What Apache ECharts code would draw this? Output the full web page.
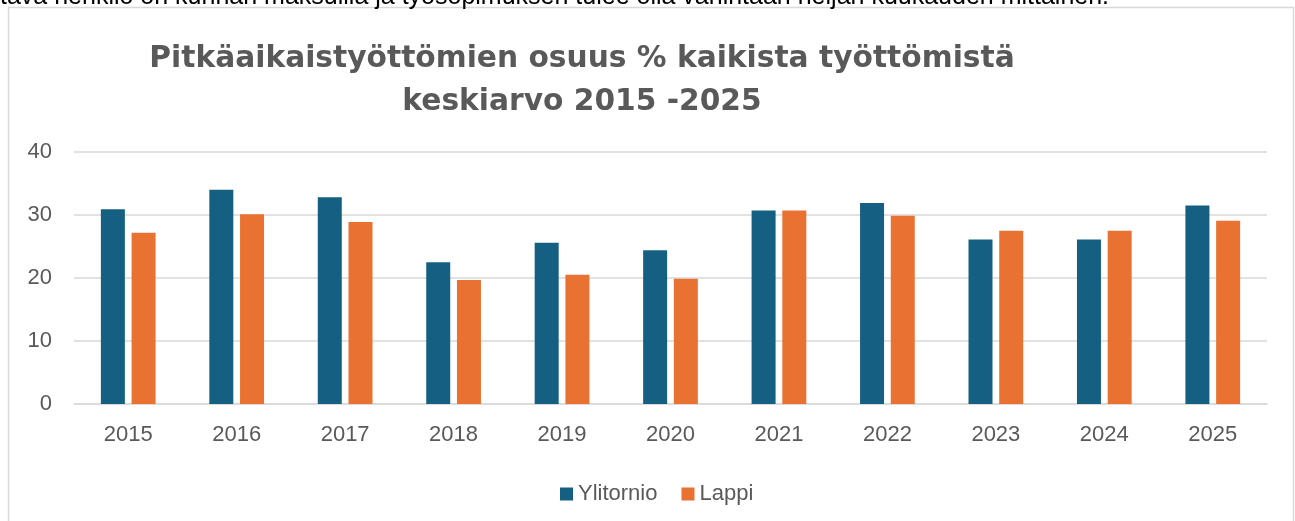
<!DOCTYPE html>
<html>
<head>
<meta charset="utf-8">
<script src="https://cdn.jsdelivr.net/npm/echarts@6/dist/echarts.min.js"></script>
<style>
  html, body { margin: 0; padding: 0; background: #fff; }
  #chart { width: 1295px; height: 521px; }
</style>
</head>
<body>
<div id="chart"></div>
<script>
const years = ["2015", "2016", "2017", "2018", "2019", "2020", "2021", "2022", "2023", "2024", "2025"];
const ylitornio = [30.9, 34.0, 32.8, 22.5, 25.6, 24.4, 30.7, 31.9, 26.1, 26.1, 31.5];
const lappi = [27.2, 30.1, 28.9, 19.7, 20.5, 19.9, 30.7, 29.9, 27.5, 27.5, 29.1];
const yTicks = [0, 10, 20, 30, 40];

const chart = echarts.init(document.getElementById("chart"));
const grey = "#595959";
const font = "'Liberation Sans', Arial, sans-serif";

const option = {
  animation: false,
  textStyle: { fontFamily: font },
  graphic: [
    {
      type: "text",
      left: 0,
      top: -15,
      style: {
        text: "tava henkilö on kunnan maksuilla ja työsopimuksen tulee olla vähintään neljän kuukauden mittainen.",
        font: "25px " + font,
        fill: "#000"
      }
    },
    {
      type: "rect",
      shape: { x: 8.5, y: 7.5, width: 1285, height: 530 },
      style: { fill: "none", stroke: "#d9d9d9", lineWidth: 1.5 },
      z: -1
    }
  ],
  title: {
    text: "Pitkäaikaistyöttömien osuus % kaikista työttömistä\nkeskiarvo 2015 -2025",
    left: 577,
    top: 33,
    textAlign: "center",
    textStyle: {
      color: grey,
      fontSize: 29.7,
      fontWeight: "bold",
      lineHeight: 43,
      fontFamily: "'DejaVu Sans', sans-serif"
    }
  },
  legend: {
    top: 478,
    left: 555,
    itemWidth: 13,
    itemHeight: 13,
    itemGap: 24,
    icon: "rect",
    textStyle: { color: grey, fontSize: 22 },
    data: ["Ylitornio", "Lappi"]
  },
  grid: { left: 74, right: 28, top: 152, bottom: 117 },
  xAxis: {
    type: "category",
    data: years,
    axisLine: { lineStyle: { color: "#d9d9d9", width: 1.5 } },
    axisTick: { show: false },
    axisLabel: { color: grey, fontSize: 22, margin: 20 }
  },
  yAxis: {
    type: "value",
    min: yTicks[0],
    max: yTicks[yTicks.length - 1],
    interval: 10,
    axisLine: { show: false },
    axisTick: { show: false },
    axisLabel: { color: grey, fontSize: 22, margin: 22 },
    splitLine: { lineStyle: { color: "#d9d9d9", width: 1.5 } }
  },
  series: [
    {
      name: "Ylitornio",
      type: "bar",
      data: ylitornio,
      barWidth: 24,
      barGap: "28%",
      itemStyle: { color: "#156082" }
    },
    {
      name: "Lappi",
      type: "bar",
      data: lappi,
      barWidth: 24,
      itemStyle: { color: "#E97132" }
    }
  ]
};

chart.setOption(option);
</script>
</body>
</html>
